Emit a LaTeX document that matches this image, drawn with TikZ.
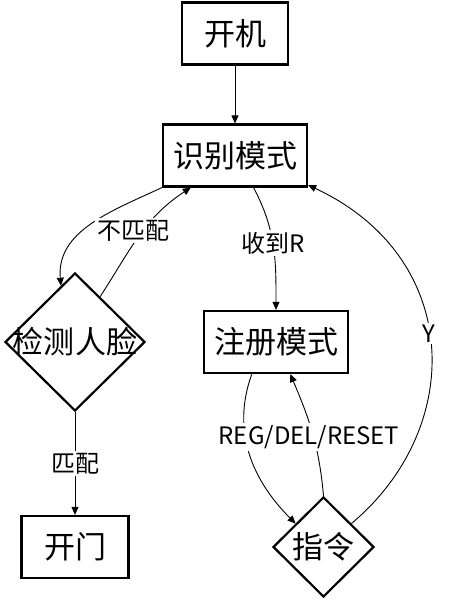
\documentclass[tikz,border=0pt]{standalone}
\usepackage{fontspec}
\setmainfont{Noto Sans CJK SC}
\usetikzlibrary{shapes.geometric,arrows.meta}
\begin{document}
\begin{tikzpicture}[x=1bp,y=1bp,
  box/.style={draw, line width=2.2bp, rectangle, inner sep=0pt, font=\fontsize{31bp}{36bp}\selectfont},
  dia/.style={draw, line width=2.2bp, diamond, inner sep=0pt},
  dtext/.style={font=\fontsize{31bp}{36bp}\selectfont, inner sep=0pt},
  conn/.style={line width=0.9bp, -{Triangle[length=8bp,width=7bp]}},
  lbl/.style={fill=white, inner sep=2bp, font=\fontsize{24bp}{28bp}\selectfont}]
\useasboundingbox (0,0) rectangle (451,600);
\node[box, minimum width=106bp, minimum height=62bp] (kj) at (235,566.5) {开机};
\node[box, minimum width=144bp, minimum height=62bp] (sb) at (235,444.5) {识别模式};
\node[dia, minimum width=140bp, minimum height=138bp, label={[dtext]center:检测人脸}] (jc) at (75,258) {};
\node[box, minimum width=107bp, minimum height=62bp] (km) at (75,53) {开门};
\node[box, minimum width=144bp, minimum height=62bp] (zc) at (276,258) {注册模式};
\node[dia, minimum width=101bp, minimum height=100bp, label={[dtext]center:指令}] (zl) at (323.5,53) {};

\draw[conn] (kj) -- (sb);
\draw[conn] (sb.south west) to[out=205,in=95] (jc.104);
\draw[conn] (jc.61) to[out=57,in=213] node[lbl,pos=0.55,xshift=-10bp]{不匹配} (sb.216);
\draw[conn] (jc) -- node[lbl]{匹配} (km);
\draw[conn] (sb.300) to[out=-62,in=90] node[lbl,pos=0.47]{收到R} (zc.north);
\draw[conn] (zl.north) to[out=95,in=-67] (zc.294);
\draw[conn] (zc.233) to[out=250,in=135] (zl.140);
\node[lbl] (rdr) at (309,163) {REG/DEL/RESET};
\draw[conn] (zl.40) .. controls +(40:150) and +(-25:170) .. node[lbl,pos=0.53]{Y} (sb.-22);
\end{tikzpicture}
\end{document}
